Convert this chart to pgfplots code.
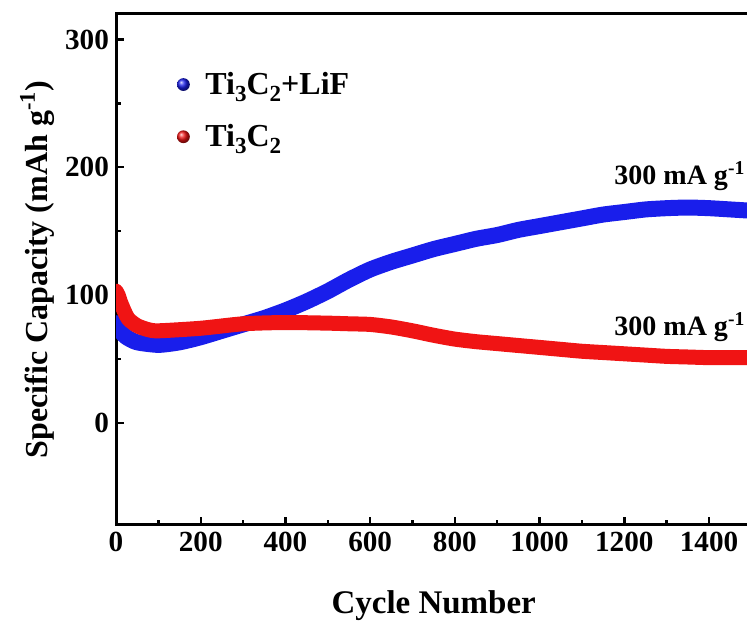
\documentclass[border=0pt]{standalone}
\usepackage{pgfplots}
\pgfplotsset{compat=1.18}
\usepackage{graphicx}
\usepackage{fontspec}
\setmainfont{Liberation Serif}
\definecolor{cblue}{RGB}{25,30,235}
\definecolor{cred}{RGB}{240,20,20}
\newcommand\sub[1]{\raisebox{-0.5ex}{\scalebox{0.72}{#1}}}
\begin{document}
\begin{tikzpicture}
\begin{axis}[
  scale only axis, width=317.7pt, height=255.5pt,
  xmin=0, xmax=1500, ymin=-80, ymax=320,
  xtick={0,200,...,1400}, ytick={0,100,200,300},
  minor x tick num=1, minor y tick num=1,
  tick align=inside, xtick pos=left, ytick pos=left,
  major tick length=4pt, minor tick length=2.3pt,
  axis line style={line width=1.5pt},
  every tick/.style={line width=1.2pt, black},
  ticklabel style={font=\fontsize{14.6}{17}\selectfont\bfseries},
  /pgf/number format/assume math mode=true,
  /pgf/number format/1000 sep={},
  scaled ticks=false,
  xlabel={Cycle Number},
  ylabel={Specific Capacity (mAh g\textsuperscript{-1})},
  every axis x label/.style={at={(axis description cs:0.5,-0.1585)}, anchor=center, font=\fontsize{16.5}{19}\selectfont\bfseries},
  every axis y label/.style={at={(axis description cs:-0.124,0.5)}, rotate=90, anchor=center, font=\fontsize{16}{19}\selectfont\bfseries},
  legend style={at={(axis description cs:0.085,0.903)}, anchor=north west, draw=none, fill=none,
    font=\fontsize{16}{19}\selectfont\bfseries, row sep=9.5pt},
  legend cell align=left,
]
\addplot[cblue, line width=8pt, line join=round, line cap=round, smooth, tension=0.4,
  legend image code/.code={\path[draw=none] (-2pt,0) -- (10.5pt,0); \shade[draw=none, ball color=cblue] (1.5pt,0) circle (3.2pt);}]
  coordinates {
  (0,78)(10,72)(25,67)(50,63)(100,61)(150,63)(200,67)(250,72)(300,77)(350,82)
  (400,88)(450,95)(500,103)(550,112)(600,120)(650,126)(700,131)(750,136)(800,140)
  (850,144)(900,147)(950,151)(1000,154)(1050,157)(1100,160)(1150,163)(1200,165)
  (1250,167)(1300,168)(1350,168.5)(1400,168)(1450,167)(1500,166)
  };
\addlegendentry{Ti\sub{3}C\sub{2}+LiF}
\addplot[cred, line width=7.5pt, line join=round, line cap=round, smooth, tension=0.4,
  legend image code/.code={\path[draw=none] (-2pt,0) -- (10.5pt,0); \shade[draw=none, ball color=cred] (1.5pt,0) circle (3.2pt);}]
  coordinates {
  (0,103)(5,100)(10,95)(20,87)(30,81)(50,76)(75,73)(100,72)(200,74)(300,77.5)
  (400,78.5)(500,78)(550,77.5)(600,77)(650,75)(700,72)(750,68.5)(800,65.5)
  (850,63.5)(900,62)(950,60.5)(1000,59)(1050,57.5)(1100,56)(1150,55)(1200,54)
  (1250,53)(1300,52)(1350,51.5)(1400,51)(1450,51)(1500,51)
  };
\addlegendentry{Ti\sub{3}C\sub{2}}
\node[anchor=west, font=\fontsize{14}{17}\selectfont\bfseries] at (axis cs:1160,193) {300 mA g\textsuperscript{-1}};
\node[anchor=west, font=\fontsize{14}{17}\selectfont\bfseries] at (axis cs:1160,75) {300 mA g\textsuperscript{-1}};
\coordinate (O) at (rel axis cs:0,0);
\end{axis}
\pgfresetboundingbox
\path[use as bounding box] ([shift={(-58pt,-49.5pt)}]O) rectangle ([shift={(315.5pt,262.5pt)}]O);
\end{tikzpicture}
\end{document}
